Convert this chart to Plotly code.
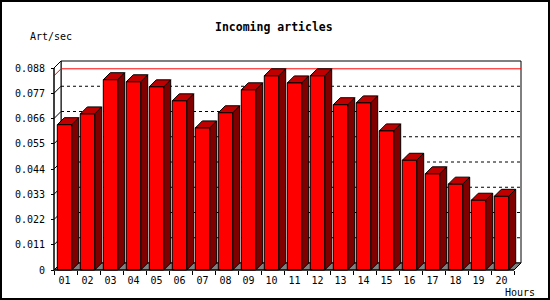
import plotly.graph_objects as go

# ---------------- data ----------------
hours = ["01", "02", "03", "04", "05", "06", "07", "08", "09", "10",
         "11", "12", "13", "14", "15", "16", "17", "18", "19", "20"]
rates = [0.0633, 0.0680, 0.0829, 0.0820, 0.0798, 0.0737, 0.0619, 0.0685, 0.0785, 0.0846,
         0.0815, 0.0846, 0.0720, 0.0728, 0.0606, 0.0478, 0.0419, 0.0374, 0.0304, 0.0321]
y_tickvals = [0, 0.011, 0.022, 0.033, 0.044, 0.055, 0.066, 0.077, 0.088]
y_ticktext = ["0", "0.011", "0.022", "0.033", "0.044", "0.055", "0.066", "0.077", "0.088"]
title_text = "Incoming articles"
y_title = "Art/sec"
x_title = "Hours"

# ---------------- geometry (pixels) ----------------
W, H = 550, 300
X0PX, SLOT = 54, 23          # pixel of x=0 and pixels per hour slot
Y0PX, YTOPPX = 270, 68       # pixel of 0 and of the top tick value
YMAX = y_tickvals[-1]
KY = YMAX / (Y0PX - YTOPPX)  # value per pixel
DEPTH = 7                    # 3D depth in px
dx = DEPTH / SLOT
dy = DEPTH * KY
FL = 3.3 / SLOT              # front-face left offset inside slot
FW = 14.4 / SLOT             # front-face width
n = len(hours)

L, R, T, B = 50, 525, 56, 276   # plot-area pixel box
xr = [(L - X0PX) / SLOT, (R - X0PX) / SLOT]
yr = [(Y0PX - B) * KY, (Y0PX - T) * KY]


def px2paper(px, py):
    return (px - L) / (R - L), (B - py) / (B - T)


fig = go.Figure()


def poly(xs, ys, fill, line="black", width=1, dash=None):
    fig.add_trace(go.Scatter(
        x=xs, y=ys, mode="lines", fill="toself" if fill else "none",
        fillcolor=fill, line=dict(color=line, width=width, dash=dash),
        hoverinfo="skip", showlegend=False))


# back wall
poly([dx, n + dx, n + dx, dx, dx], [dy, dy, YMAX + dy, YMAX + dy, dy], "white")
# left wall
poly([0, dx, dx, 0, 0], [0, dy, YMAX + dy, YMAX, 0], "white")
# floor
poly([0, n, n + dx, dx, 0], [0, 0, dy, dy, 0], "#808080")

# grid lines on back wall and left wall
gx, gy, lx, ly = [], [], [], []
for v in y_tickvals[1:-1]:
    gx += [dx, n + dx, None]
    gy += [v + dy, v + dy, None]
for v in y_tickvals[1:]:
    lx += [0, dx, None]
    ly += [v, v + dy, None]
poly(gx, gy, None, width=1, dash="3px,3px")
poly(lx, ly, None, width=1)

# max line
m = max(rates)
poly([0, dx, n + dx], [m, m + dy, m + dy], None, line="#ff0000", width=1)

# bars: side, top, front
sx, sy, tx, ty, fx, fy = [], [], [], [], [], []
for i, v in enumerate(rates):
    x0 = i + FL
    x1 = x0 + FW
    sx += [x1, x1 + dx, x1 + dx, x1, x1, None]
    sy += [0, dy, v + dy, v, 0, None]
    tx += [x0, x0 + dx, x1 + dx, x1, x0, None]
    ty += [v, v + dy, v + dy, v, v, None]
    fx += [x0, x1, x1, x0, x0, None]
    fy += [0, 0, v, v, 0, None]
poly(sx, sy, "#800000")
poly(tx, ty, "#c00000")
poly(fx, fy, "#ff0000")

# axis lines
poly([dx, 0, 0, n, n + dx], [YMAX + dy, YMAX, 0, 0, dy], None)

tickfont = dict(family="DejaVu Sans Mono", size=10, color="black")
fig.update_layout(
    width=W, height=H,
    margin=dict(l=L, r=W - R, t=T, b=H - B, pad=0),
    paper_bgcolor="white", plot_bgcolor="white",
    showlegend=False,
    xaxis=dict(range=xr, showgrid=False, zeroline=False, showline=False,
               tickmode="array", tickvals=[i + FL + FW / 2 for i in range(n)],
               ticktext=hours, ticks="", tickfont=tickfont,
               anchor="free", position=(B - Y0PX) / (B - T),
               ticklabelstandoff=3,
               minor=dict(ticks="outside", ticklen=4, tickcolor="black",
                          tick0=0, dtick=1, showgrid=False)),
    yaxis=dict(range=yr, showgrid=False, zeroline=False, showline=False,
               tickmode="array", tickvals=y_tickvals, ticktext=y_ticktext,
               ticks="outside", ticklen=3, tickcolor="black", tickfont=tickfont,
               anchor="free", position=(X0PX - L) / (R - L),
               ticklabelstandoff=4),
)

annos = []
tx_, ty_ = px2paper(274, 27)
annos.append(dict(x=tx_, y=ty_, xref="paper", yref="paper", text="<b>" + title_text + "</b>",
                  showarrow=False, xanchor="center", yanchor="middle",
                  font=dict(family="DejaVu Sans Mono", size=11.5, color="black")))
ax_, ay_ = px2paper(50.5, 37)
annos.append(dict(x=ax_, y=ay_, xref="paper", yref="paper", text=y_title,
                  showarrow=False, xanchor="center", yanchor="middle", font=tickfont))
hx_, hy_ = px2paper(519.5, 292.5)
annos.append(dict(x=hx_, y=hy_, xref="paper", yref="paper", text=x_title,
                  showarrow=False, xanchor="center", yanchor="middle", font=tickfont))
fig.update_layout(annotations=annos)

# outer frame
fx0, fy1 = px2paper(1, 1)
fx1, fy0 = px2paper(549, 299)
fig.add_shape(type="rect", xref="paper", yref="paper", x0=fx0, x1=fx1, y0=fy0, y1=fy1,
              line=dict(color="black", width=2), fillcolor="rgba(0,0,0,0)")

fig.write_html("out.html")
